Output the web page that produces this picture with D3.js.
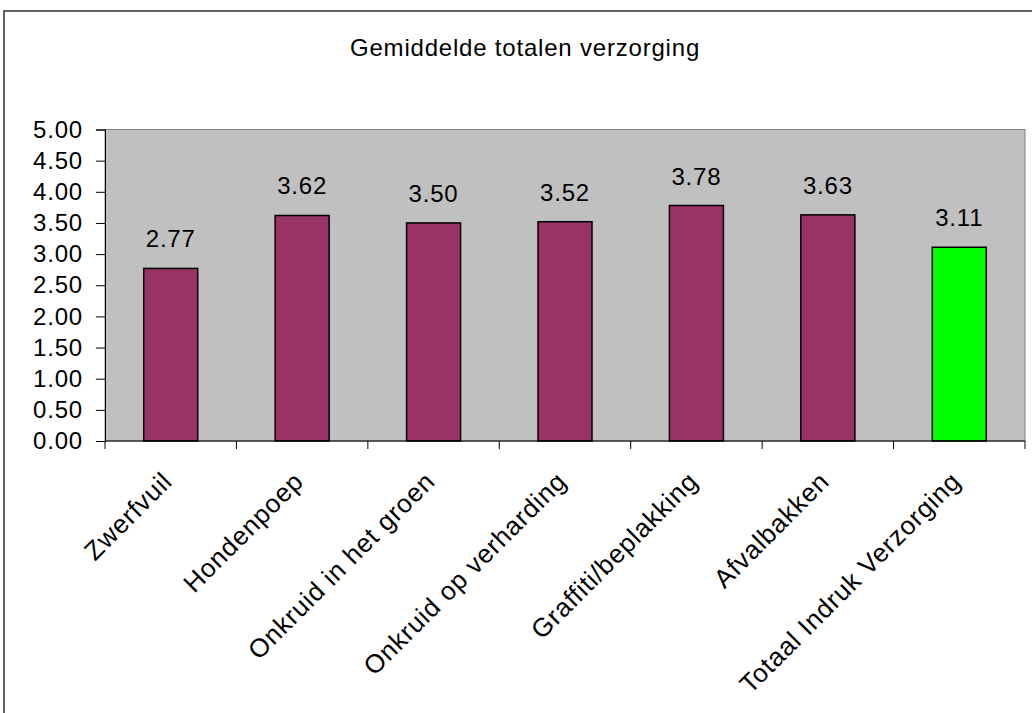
<!DOCTYPE html>
<html><head><meta charset="utf-8">
<script src="https://cdn.jsdelivr.net/npm/d3@7/dist/d3.min.js"></script>
<style>body{margin:0;background:#fff}svg{display:block}text{font-family:"Liberation Sans",Arial,sans-serif;fill:#000;letter-spacing:0.8px}</style>
</head><body><svg id="c" width="1032" height="713"></svg>
<script>
const title = "Gemiddelde totalen verzorging";
const categories = ["Zwerfvuil","Hondenpoep","Onkruid in het groen","Onkruid op verharding","Graffiti/beplakking","Afvalbakken","Totaal Indruk Verzorging"];
const values = [2.77,3.62,3.50,3.52,3.78,3.63,3.11];
const barColors = ["#993366","#993366","#993366","#993366","#993366","#993366","#00FF00"];
const yTicks = [0,0.5,1,1.5,2,2.5,3,3.5,4,4.5,5];

const fs = "24px";
const svg = d3.select("#c");
const L=105,R=1025,T=129.5,B=441;
// chart frame
svg.append("rect").attr("x",4).attr("y",11).attr("width",1100).attr("height",800)
  .attr("fill","none").attr("stroke","#333").attr("stroke-width",1.5);
svg.append("text").attr("x",525).attr("y",56).attr("text-anchor","middle")
  .style("font-size","24px").text(title);

const x = d3.scaleBand().domain(categories).range([L,R]).paddingInner(0).paddingOuter(0);
const y = d3.scaleLinear().domain([0,5]).range([B,T]);

svg.append("rect").attr("x",L).attr("y",T).attr("width",R-L).attr("height",B-T)
  .attr("fill","#C0C0C0").attr("stroke","#808080").attr("stroke-width",1);

const bw = 54;
svg.selectAll("rect.bar").data(values).join("rect").attr("class","bar")
  .attr("x",(d,i)=>x(categories[i])+x.bandwidth()/2-bw/2)
  .attr("y",d=>y(d)).attr("width",bw).attr("height",d=>B-y(d))
  .attr("fill",(d,i)=>barColors[i]).attr("stroke","#000").attr("stroke-width",1.5);

svg.selectAll("text.val").data(values).join("text").attr("class","val")
  .attr("x",(d,i)=>x(categories[i])+x.bandwidth()/2)
  .attr("y",d=>y(d)-21).attr("text-anchor","middle")
  .style("font-size",fs).text(d=>d.toFixed(2));

// y axis
const yAxis = d3.axisLeft(y).tickValues(yTicks).tickFormat(d3.format(".2f")).tickSize(9).tickPadding(14);
const gy = svg.append("g").attr("transform",`translate(${L},0)`).call(yAxis);
gy.select(".domain").attr("stroke","#000");
gy.selectAll(".tick line").attr("stroke","#000");
gy.selectAll(".tick text").style("font-size",fs).attr("font-family",null).attr("fill","#000").attr("x",-22);

// x axis
svg.append("line").attr("x1",L).attr("x2",R).attr("y1",B).attr("y2",B).attr("stroke","#000");
const bounds = categories.map(c=>x(c)).concat([R]);
svg.selectAll("line.xt").data(bounds).join("line").attr("class","xt")
  .attr("x1",d=>d).attr("x2",d=>d).attr("y1",B).attr("y2",B+8).attr("stroke","#000");
svg.selectAll("text.cat").data(categories).join("text").attr("class","cat")
  .attr("text-anchor","end")
  .attr("transform",d=>`translate(${x(d)+x.bandwidth()/2+3},483) rotate(-45)`)
  .style("font-size","26px").text(d=>d);
</script></body></html>
